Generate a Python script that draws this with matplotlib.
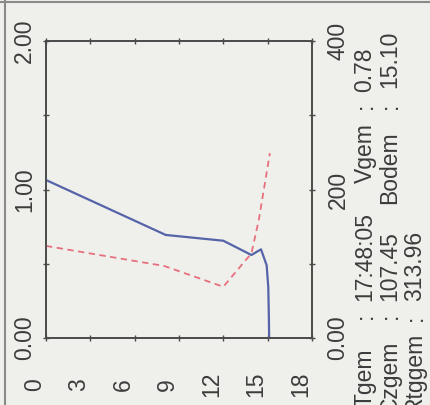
import matplotlib
matplotlib.use("Agg")
import matplotlib.pyplot as plt
from matplotlib.lines import Line2D

# ---------------------------------------------------------------------------
# Data (depth profile, drawn rotated: depth runs left -> right)
# ---------------------------------------------------------------------------

depth_v = [0.0, 8.1, 12.0, 13.9, 14.55, 14.93, 15.04, 15.08, 15.10]
velocity = [1.064, 0.694, 0.655, 0.559, 0.597, 0.49, 0.345, 0.15, 0.0]

depth_c = [0.0, 8.0, 12.0, 13.9, 14.4, 15.15]
concentration = [124, 97, 69, 114, 159, 249]

depth_ticks = [0, 3, 6, 9, 12, 15, 18]
vel_ticks = [0.0, 0.5, 1.0, 1.5, 2.0]
vel_labels = ["0.00", "", "1.00", "", "2.00"]
conc_ticks = [0, 100, 200, 300, 400]
conc_labels = ["0.00", "", "200", "", "400"]

# info block: (column, text, start y in px from top)
info_items = [
    (0, "Tgem", 407), (0, ":", 316), (0, "17:48:05", 301), (0, "Vgem", 183), (0, ":", 106), (0, "0.78", 92),
    (1, "Czgem", 413), (1, ":", 316), (1, "107.45", 301), (1, "Bodem", 204), (1, ":", 106), (1, "15.10", 88),
    (2, "Rtggem", 413), (2, ":", 318), (2, "313.96", 301),
]
col_x = [365, 390, 415]

# ---------------------------------------------------------------------------
# Style
# ---------------------------------------------------------------------------

W, H = 431, 405
BG = "#efefeb"
INK = "#3c3c3c"
FS = 16.5
plt.rcParams["font.family"] = ["Liberation Sans", "DejaVu Sans"]

fig = plt.figure(figsize=(W / 100, H / 100), dpi=100, facecolor=BG)

left, right, top, bottom = 46, 312, 41, 338
ax = fig.add_axes([left / W, 1 - bottom / H, (right - left) / W, (bottom - top) / H])
ax.set_facecolor(BG)
ax2 = ax.twinx()

ax.plot(depth_v, velocity, color="#5564a8", lw=1.6, zorder=3)
ax2.plot(depth_c, concentration, color="#e8707e", lw=1.3, dashes=(3.5, 2.5))

ax.set_xlim(0, 18)
ax.set_ylim(0, 2)
ax2.set_ylim(0, 400)

ax.set_xticks(depth_ticks)
ax.set_xticklabels([str(d) for d in depth_ticks])
ax.set_yticks(vel_ticks)
ax.set_yticklabels(vel_labels)
ax2.set_yticks(conc_ticks)
ax2.set_yticklabels(conc_labels)

for a in (ax, ax2):
    for s in a.spines.values():
        s.set_color("#4a4a4a")
        s.set_linewidth(1.2)

ax.tick_params(axis="x", which="both", top=True, direction="inout", length=5,
               width=1, color="#4a4a4a", labelsize=FS, labelcolor=INK, pad=31)
ax.tick_params(axis="y", direction="inout", length=5, width=1, color="#4a4a4a",
               labelsize=FS, labelcolor=INK, pad=4.5)
ax2.tick_params(axis="y", direction="inout", length=5, width=1, color="#4a4a4a",
                labelsize=FS, labelcolor=INK, pad=8)

for lab in ax.get_xticklabels():
    lab.set_rotation(90)
    lab.set_ha("right")
    lab.set_va("center")
for lab in ax.get_yticklabels():
    lab.set_rotation(90)
    lab.set_va("center")
for lab in ax2.get_yticklabels():
    lab.set_rotation(90)
    lab.set_va("center")

# info text, rotated
for col, txt, y0 in info_items:
    va = "center" if txt == ":" else "bottom"
    fig.text(col_x[col] / W, 1 - y0 / H, txt, rotation=90, ha="center", va=va,
             fontsize=FS, color=INK)

# scan frame lines
fig.add_artist(Line2D([5 / W, 5 / W], [0, 1], color="#8a8a8a", lw=1.5))
fig.add_artist(Line2D([0, 1], [1 - 2 / H, 1 - 2 / H], color="#8a8a8a", lw=1.5))

fig.savefig("out.png", dpi=100, facecolor=BG)
